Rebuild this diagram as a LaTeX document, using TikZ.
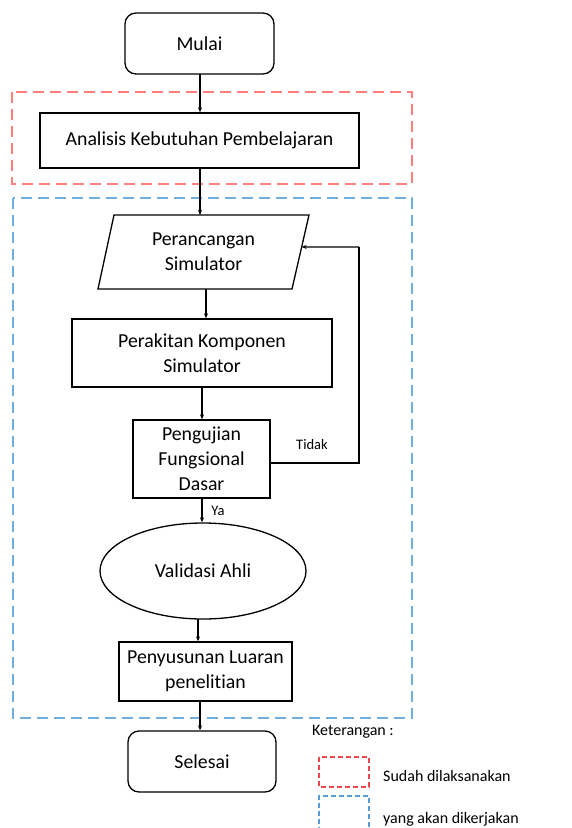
\documentclass[tikz,border=0pt]{standalone}
\usepackage{fontspec}
\setmainfont[Ligatures={NoCommon}]{Carlito}
\usetikzlibrary{arrows.meta,shapes.geometric,calc}
\definecolor{dred}{HTML}{FF7F7F}
\definecolor{dblue}{HTML}{6FAEDF}
\definecolor{lred}{HTML}{F04848}
\definecolor{lblue}{HTML}{5B9BD5}
\begin{document}
\begin{tikzpicture}[x=1pt,y=-1pt,
  every node/.style={font=\fontsize{19.8}{25}\selectfont, inner sep=0pt},
  box/.style={draw, line width=1.3pt, align=center},
  roundbox/.style={box, rounded corners=11pt},
  arr/.style={line width=1.2pt, -{Stealth[length=5pt,width=4pt]}},
  ln/.style={line width=1.2pt},
  redframe/.style={draw=dred, line width=2pt, dash pattern=on 11pt off 6pt},
  blueframe/.style={draw=dblue, line width=2pt, dash pattern=on 11pt off 6pt},
  small/.style={font=\fontsize{14.5}{17}\selectfont},
  legend/.style={font=\fontsize{16}{19}\selectfont, anchor=west}
]
\useasboundingbox (0,0) rectangle (572,828);
% frames
\draw[redframe] (12,92) rectangle (412,184);
\draw[blueframe] (13,198) rectangle (412,718);

% nodes
\node[roundbox, minimum width=149pt, minimum height=61pt] (mulai) at (199.5,43.5) {Mulai};
\node[box, minimum width=319pt, minimum height=55pt] (ana) at (199.5,140.5) {Analisis Kebutuhan Pembelajaran};

\coordinate (ptl) at (114,215);
\coordinate (ptr) at (309,215);
\coordinate (pbr) at (292,289);
\coordinate (pbl) at (98,289);
\draw[line width=1.3pt] (ptl) -- (ptr) -- (pbr) -- (pbl) -- cycle;
\node[align=center] (perancangan) at (203.5,252) {Perancangan\\Simulator};
\coordinate (pin) at ($(ptr)!0.432!(pbr)$);
\coordinate (pout) at (206,289);

\node[box, minimum width=260pt, minimum height=68pt] (rakit) at (202,353) {Perakitan Komponen\\Simulator};
\node[box, minimum width=137pt, minimum height=78pt] (uji) at (201.5,459) {Pengujian\\Fungsional\\Dasar};
\node[draw, ellipse, line width=1.3pt, minimum width=206pt, minimum height=96pt] (val) at (203,571) {Validasi Ahli};
\node[box, minimum width=173pt, minimum height=59pt] (susun) at (205.5,671.5) {Penyusunan Luaran\\penelitian};
\node[roundbox, minimum width=148pt, minimum height=61pt] (selesai) at (202,761.5) {Selesai};

% connectors
\coordinate (mo) at (200,74);
\draw[arr] (mo) -- (mo |- ana.north);
\coordinate (ao) at (200,168);
\draw[arr] (ao) -- (ao |- ptl);
\draw[arr] (pout) -- (pout |- rakit.north);
\coordinate (ro) at (202,387);
\draw[arr] (ro) -- (ro |- uji.north);
\coordinate (uo) at (202,498);
\draw[arr] (uo) -- (uo |- val.north);
\coordinate (vo) at (198,619);
\draw[arr] (vo) -- (vo |- susun.north);
\coordinate (so) at (200,701);
\draw[arr] (so) -- (so |- selesai.north);

\coordinate (tidakA) at (270,463);
\coordinate (tidakB) at (359,463);
\coordinate (tidakC) at (359,247);
\draw[ln] (tidakA) -- (tidakB) -- (tidakC);
\draw[arr] (tidakC) -- (pin);

\node[small] (tidak) at (312,445) {Tidak};
\node[small] (ya) at (218,511) {Ya};

% legend
\node[legend] (ket) at (312,732) {Keterangan :};
\draw[draw=lred, line width=1.4pt, dash pattern=on 5pt off 3pt] (319,757) rectangle (369,787);
\draw[draw=lblue, line width=1.4pt, dash pattern=on 5pt off 3pt] (319,832) -- (319,796) -- (369,796) -- (369,832);
\node[legend] (sudah) at (383,776) {Sudah dilaksanakan};
\node[legend] (akan) at (383,819) {yang akan dikerjakan};
\end{tikzpicture}
\end{document}
